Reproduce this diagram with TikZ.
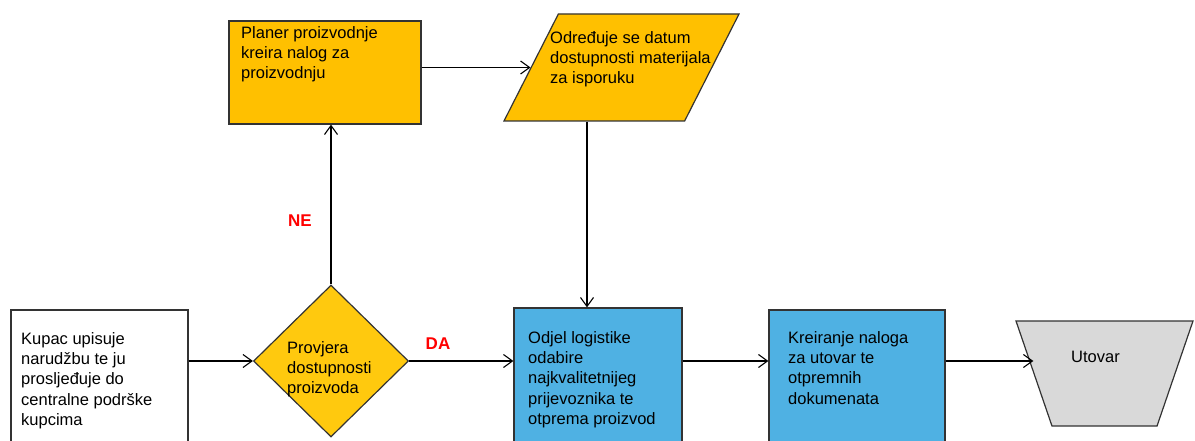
\documentclass[tikz,border=0pt]{standalone}
\usepackage{fontspec}
\setmainfont{Liberation Sans}
\usetikzlibrary{shapes.geometric, arrows.meta}

\definecolor{narandzasta}{HTML}{FFC000}
\definecolor{zuta}{HTML}{FFC90E}
\definecolor{plava}{HTML}{4FB1E3}
\definecolor{siva}{HTML}{D9D9D9}

\begin{document}
\begin{tikzpicture}[x=1pt, y=-1pt,
        blok/.style={draw=black!80, line width=1.2pt, inner sep=1pt},
        tekst/.style={anchor=north west, align=left, inner sep=0pt, font=\fontsize{16.5}{20.3}\selectfont},
        oznaka/.style={text=red, font=\fontsize{17}{20}\selectfont\bfseries},
        veza/.style={-{Straight Barb[length=9pt, width=13pt]}, line width=1.1pt}]

        \useasboundingbox (0, 0) rectangle (1195, 441);

        % shapes
        \node[blok, fill=white, minimum width=177, minimum height=150] at (99.5, 385)  (kupac) {};
        \node[blok, diamond, fill=zuta, minimum width=155, minimum height=152] at (331, 361)  (provjera) {};
        \node[blok, fill=narandzasta, minimum width=192, minimum height=103] at (325, 72.5)  (planer) {};
        \node[blok, trapezium, trapezium left angle=66.7, trapezium right angle=113.3, trapezium stretches=true,
              fill=narandzasta, minimum width=235, minimum height=107] at (621.5, 67.5)  (datum) {};
        \node[blok, fill=plava, minimum width=168, minimum height=150] at (598, 383)  (logistika) {};
        \node[blok, fill=plava, minimum width=176, minimum height=150] at (857, 385)  (nalog) {};
        \node[blok, trapezium, trapezium left angle=108.9, trapezium right angle=108.9, trapezium stretches=true,
              fill=siva, minimum width=177, minimum height=105] at (1104.5, 373.5)  (utovar) {};

        % texts
        \node[tekst] at (21, 332)  (kupac-t) {Kupac upisuje\\narudžbu te ju\\prosljeđuje do\\centralne podrške\\kupcima};
        \node[tekst] at (287, 341)  (provjera-t) {Provjera\\dostupnosti\\proizvoda};
        \node[tekst] at (241, 26)  (planer-t) {Planer proizvodnje\\kreira nalog za\\proizvodnju};
        \node[tekst] at (550, 31)  (datum-t) {Određuje se datum\\dostupnosti materijala\\za isporuku};
        \node[tekst] at (528, 331)  (logistika-t) {Odjel logistike\\odabire\\najkvalitetnijeg\\prijevoznika te\\otprema proizvod};
        \node[tekst] at (788, 331)  (nalog-t) {Kreiranje naloga\\za utovar te\\otpremnih\\dokumenata};
        \node[tekst] at (1071, 351)  (utovar-t) {Utovar};

        \node[oznaka] at (300, 221)  (ne) {NE};
        \node[oznaka] at (438, 344)  (da) {DA};

        % arrows
        \draw[veza]  (kupac.east |- provjera) -- (provjera.west);
        \draw[veza]  (provjera.north) -- (provjera.north |- planer.south);
        \draw[veza]  (provjera.east) -- (provjera.east -| logistika.west);
        \draw[veza]  (planer.east |- datum.west) -- (datum.west);
        \draw[veza]  ([xshift=-34.5pt]datum.south) -- ([xshift=-34.5pt]datum.south |- logistika.north);
        \draw[veza]  (logistika.east |- provjera) -- (nalog.west |- provjera);
        \draw[veza]  (nalog.east |- provjera) -- (utovar.west |- provjera);

    \end{tikzpicture}
\end{document}
